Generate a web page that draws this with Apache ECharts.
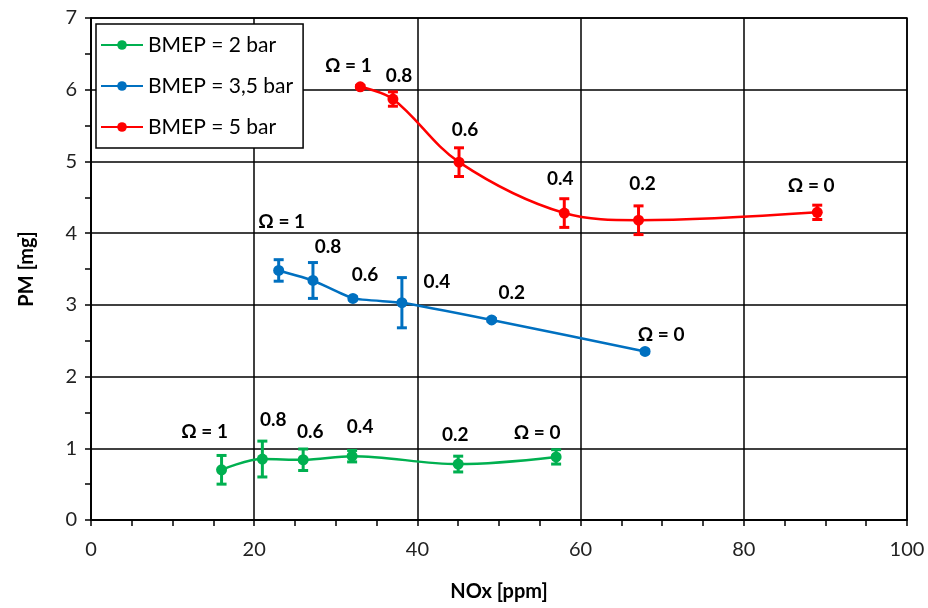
<!DOCTYPE html>
<html><head><meta charset="utf-8">
<script src="https://cdn.jsdelivr.net/npm/echarts@6/dist/echarts.min.js"></script>
<style>html,body{margin:0;padding:0;background:#fff}#c{width:928px;height:608px}</style>
</head><body><div id="c"></div>
<script>
// ---- data ----
const seriesNames = ['BMEP = 2 bar', 'BMEP = 3,5 bar', 'BMEP = 5 bar'];
const pointLabels = ['Ω = 1', '0.8', '0.6', '0.4', '0.2', 'Ω = 0'];

const nox2 = [16, 21, 26, 32, 45, 57];
const pm2 = [0.70, 0.85, 0.84, 0.89, 0.78, 0.88];
const err2 = [0.20, 0.25, 0.15, 0.08, 0.11, 0.10];

const nox35 = [23, 27.2, 32.1, 38.1, 49.1, 67.9];
const pm35 = [3.48, 3.34, 3.09, 3.03, 2.79, 2.35];
const err35 = [0.15, 0.25, 0.02, 0.35, 0.02, 0.02];

const nox5 = [33, 37, 45.1, 58, 67.1, 89];
const pm5 = [6.04, 5.87, 4.99, 4.28, 4.18, 4.29];
const err5 = [0.02, 0.10, 0.20, 0.20, 0.20, 0.10];

const xTicks = [0, 20, 40, 60, 80, 100];
const yTicks = [0, 1, 2, 3, 4, 5, 6, 7];

// ---- layout (label offsets relative to point, px) ----
const offs2 = [[-17,-38],[11,-39],[7,-28],[8,-29],[-3,-29],[-19,-24]];
const offs35 = [[3,-49],[15,-34],[12,-24],[35,-21],[20,-27],[16,-17]];
const offs5 = [[-12,-21],[6,-23],[6,-32],[-4,-34],[4,-36],[-6,-26]];

const colors = ['#00B050', '#0070C0', '#FF0000'];
const FONT = 'Lato, "Open Sans", sans-serif';

function lineSeries(name, xs, ys, offs, color, smooth) {
  return {
    name: name, type: 'line', smooth: smooth, color: color,
    symbol: 'circle', symbolSize: 11,
    lineStyle: {color: color, width: 2.5},
    itemStyle: {color: color},
    z: 3,
    data: xs.map((x, i) => ({
      value: [x, ys[i]],
      label: {
        show: true, position: 'inside', formatter: pointLabels[i],
        offset: offs[i], color: '#000', fontWeight: 'bold', fontSize: 19,
        fontFamily: FONT, align: 'center', verticalAlign: 'middle'
      }
    }))
  };
}

function errSeries(id, xs, ys, es, color) {
  return {
    id: id, name: id, type: 'custom', z: 2,
    data: xs.map((x, i) => [x, ys[i] - es[i], ys[i] + es[i]]),
    renderItem: function (params, api) {
      const lo = api.coord([api.value(0), api.value(1)]);
      const hi = api.coord([api.value(0), api.value(2)]);
      const w = 5;
      const st = {stroke: color, lineWidth: 3};
      return {
        type: 'group',
        children: [
          {type: 'line', shape: {x1: lo[0], y1: lo[1], x2: hi[0], y2: hi[1]}, style: st},
          {type: 'line', shape: {x1: lo[0]-w, y1: lo[1], x2: lo[0]+w, y2: lo[1]}, style: st},
          {type: 'line', shape: {x1: hi[0]-w, y1: hi[1], x2: hi[0]+w, y2: hi[1]}, style: st}
        ]
      };
    },
    silent: true
  };
}

const chart = echarts.init(document.getElementById('c'), null, {renderer: 'canvas'});
chart.setOption({
  animation: false,
  backgroundColor: '#fff',
  textStyle: {fontFamily: FONT},
  grid: {left: 91, right: 21, top: 18, bottom: 88, show: true, borderColor: '#000', borderWidth: 1.5},
  legend: {
    data: seriesNames,
    orient: 'vertical', left: 96, top: 24,
    backgroundColor: '#fff', borderColor: '#000', borderWidth: 1.5,
    padding: [10, 10, 10, 4],
    itemWidth: 42, itemHeight: 12, itemGap: 19,
    textStyle: {fontSize: 21, color: '#000', fontFamily: FONT, lineHeight: 22}
  },
  xAxis: {
    type: 'value', min: 0, max: 100, interval: 20,
    name: 'NOx [ppm]', nameLocation: 'middle', nameGap: 62,
    nameTextStyle: {fontSize: 20, fontWeight: 'bold', color: '#000', fontFamily: FONT},
    axisLine: {show: true, onZero: false, lineStyle: {color: '#000', width: 1.5}},
    axisTick: {show: true, inside: false, length: 6, lineStyle: {color: '#000', width: 1.5}},
    minorTick: {show: true, splitNumber: 4, length: 6, lineStyle: {color: '#000', width: 1.5}},
    splitLine: {show: true, lineStyle: {color: '#000', width: 1.5}},
    axisLabel: {fontSize: 20, color: '#222', margin: 20, fontFamily: FONT,
      formatter: v => xTicks.includes(v) ? String(v) : ''}
  },
  yAxis: {
    type: 'value', min: 0, max: 7, interval: 1,
    name: 'PM [mg]', nameLocation: 'middle', nameGap: 54, nameRotate: 90,
    nameTextStyle: {fontSize: 20, fontWeight: 'bold', color: '#000', fontFamily: FONT},
    axisLine: {show: true, onZero: false, lineStyle: {color: '#000', width: 1.5}},
    axisTick: {show: true, inside: false, length: 6, lineStyle: {color: '#000', width: 1.5}},
    minorTick: {show: true, splitNumber: 2, length: 6, lineStyle: {color: '#000', width: 1.5}},
    splitLine: {show: true, lineStyle: {color: '#000', width: 1.5}},
    axisLabel: {fontSize: 20, color: '#222', margin: 14, fontFamily: FONT,
      formatter: v => yTicks.includes(v) ? String(v) : ''}
  },
  series: [
    lineSeries(seriesNames[0], nox2, pm2, offs2, colors[0], 0.35),
    lineSeries(seriesNames[1], nox35, pm35, offs35, colors[1], 0.15),
    lineSeries(seriesNames[2], nox5, pm5, offs5, colors[2], 0.35),
    errSeries('err2', nox2, pm2, err2, colors[0]),
    errSeries('err35', nox35, pm35, err35, colors[1]),
    errSeries('err5', nox5, pm5, err5, colors[2])
  ]
});
</script></body></html>
